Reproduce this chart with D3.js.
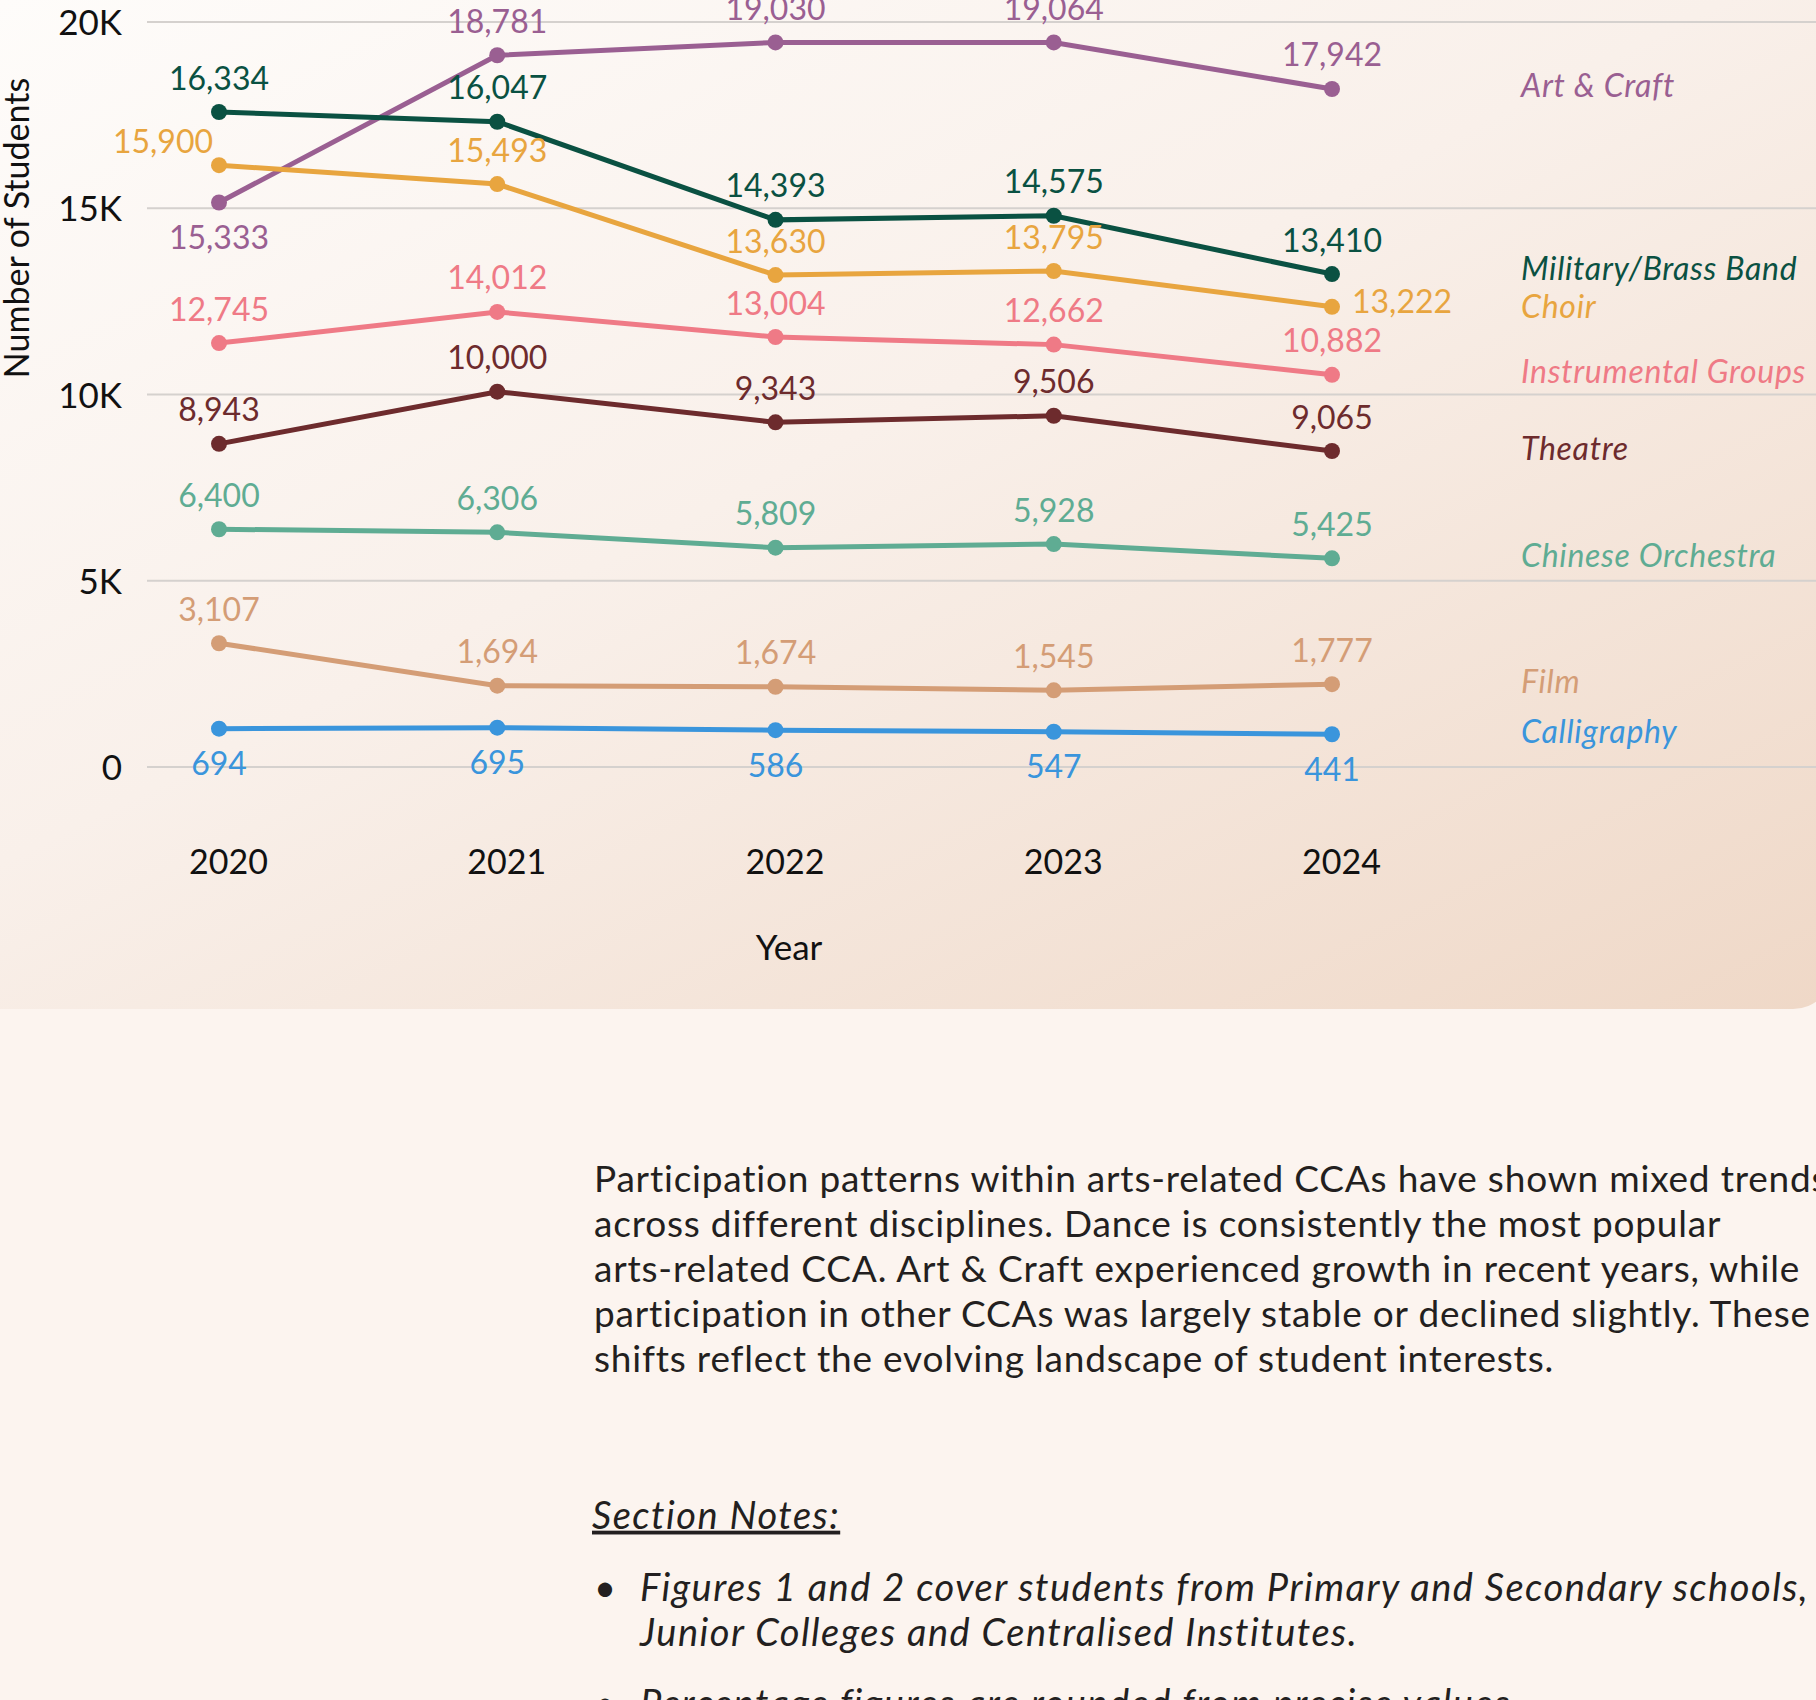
<!DOCTYPE html>
<html>
<head>
<meta charset="utf-8">
<script src="https://cdn.jsdelivr.net/npm/d3@7"></script>
<style>
  body { margin: 0; background: #fcf4ef; overflow: hidden; }
  svg { display: block; font-family: Lato, "Noto Sans", sans-serif; }
</style>
</head>
<body>
<svg id="chart"></svg>
<script>
// years on the x axis, ticks on the y axis
let years = [2020, 2021, 2022, 2023, 2024]
let yTicks = [0, 5000, 10000, 15000, 20000]
let yTickLabels = ["0", "5K", "10K", "15K", "20K"]

let seriesNames = ["Art & Craft", "Military/Brass Band", "Choir", "Instrumental Groups",
  "Theatre", "Chinese Orchestra", "Film", "Calligraphy"]
let seriesColors = ["#9a5f92", "#0a5142", "#e8a53f", "#ef7a86",
  "#6d2b2d", "#5fac93", "#d49d76", "#3a95dc"]

// where the points sit in the picture
let artCraft = [15155, 19108, 19451, 19451, 18202]
let militaryBand = [17584, 17323, 14688, 14798, 13233]
let choir = [16157, 15649, 13205, 13315, 12354]
let instrumental = [11380, 12217, 11544, 11339, 10529]
let theatre = [8675, 10076, 9252, 9430, 8483]
let chineseOrchestra = [6383, 6301, 5889, 5985, 5601]
let film = [3322, 2183, 2155, 2059, 2224]
let calligraphy = [1030, 1057, 988, 947, 879]

// numbers printed next to the points
let artCraftLabels = ["15,333", "18,781", "19,030", "19,064", "17,942"]
let militaryBandLabels = ["16,334", "16,047", "14,393", "14,575", "13,410"]
let choirLabels = ["15,900", "15,493", "13,630", "13,795", "13,222"]
let instrumentalLabels = ["12,745", "14,012", "13,004", "12,662", "10,882"]
let theatreLabels = ["8,943", "10,000", "9,343", "9,506", "9,065"]
let chineseOrchestraLabels = ["6,400", "6,306", "5,809", "5,928", "5,425"]
let filmLabels = ["3,107", "1,694", "1,674", "1,545", "1,777"]
let calligraphyLabels = ["694", "695", "586", "547", "441"]

let valueLists = [artCraft, militaryBand, choir, instrumental, theatre, chineseOrchestra, film, calligraphy]
let labelLists = [artCraftLabels, militaryBandLabels, choirLabels, instrumentalLabels,
  theatreLabels, chineseOrchestraLabels, filmLabels, calligraphyLabels]

let series = seriesNames.map((name, i) => ({
  name: name,
  color: seriesColors[i],
  points: years.map((yr, j) => ({ year: yr, value: valueLists[i][j], label: labelLists[i][j] }))
}))

let paragraph = [
  "Participation patterns within arts-related CCAs have shown mixed trends",
  "across different disciplines. Dance is consistently the most popular",
  "arts-related CCA. Art & Craft experienced growth in recent years, while",
  "participation in other CCAs was largely stable or declined slightly. These",
  "shifts reflect the evolving landscape of student interests."
]
let notes = [
  ["Figures 1 and 2 cover students from Primary and Secondary schools,", "Junior Colleges and Centralised Institutes."],
  ["Percentage figures are rounded from precise values."]
]

let width = 1816
let height = 1700

let svg = d3.select('#chart')
  .attr('width', width)
  .attr('height', height)

// card background
let defs = svg.append('defs')
let grad = defs.append('linearGradient')
  .attr('id', 'cardGrad')
  .attr('gradientUnits', 'userSpaceOnUse')
  .attr('x1', 0).attr('y1', 0)
  .attr('x2', 767).attr('y2', 1534)
grad.append('stop').attr('offset', '0%').attr('stop-color', '#fefcfa')
grad.append('stop').attr('offset', '45%').attr('stop-color', '#f9f0ea')
grad.append('stop').attr('offset', '100%').attr('stop-color', '#efd8c7')

svg.append('rect')
  .attr('x', -60).attr('y', -60)
  .attr('width', 1893).attr('height', 1069)
  .attr('rx', 40)
  .attr('fill', 'url(#cardGrad)')

let x = d3.scalePoint().domain(years).range([219, 1332])
let y = d3.scaleLinear().domain([0, 20000]).range([767, 22])

// gridlines
svg.append('g')
  .selectAll('line')
  .data(yTicks)
  .enter()
  .append('line')
  .attr('x1', 147).attr('x2', width)
  .attr('y1', d => y(d)).attr('y2', d => y(d))
  .attr('stroke', '#d5d1ce')
  .attr('stroke-width', 2)

// y axis labels
let yAxis = svg.append('g')
  .attr('transform', 'translate(122,0)')
  .call(d3.axisLeft(y).tickValues(yTicks).tickFormat((d, i) => yTickLabels[i]).tickSize(0).tickPadding(0))
yAxis.select('.domain').remove()
yAxis.attr('font-family', null).attr('font-size', 35)
yAxis.selectAll('text').attr('fill', '#111').attr('dy', '0.36em')

// x axis labels
let xAxis = svg.append('g')
  .attr('transform', 'translate(9,862)')
  .call(d3.axisBottom(x).tickSize(0).tickPadding(0))
xAxis.select('.domain').remove()
xAxis.attr('font-family', null).attr('font-size', 34)
xAxis.selectAll('text').attr('fill', '#111').attr('y', 0).attr('dy', '0.36em')

svg.append('text')
  .attr('x', 789).attr('y', 947)
  .attr('dy', '0.36em')
  .attr('text-anchor', 'middle')
  .attr('font-size', 35)
  .attr('fill', '#111')
  .text('Year')

svg.append('text')
  .attr('transform', 'translate(17,228) rotate(-90)')
  .attr('dy', '0.36em')
  .attr('text-anchor', 'middle')
  .attr('font-size', 34)
  .attr('fill', '#111')
  .text('Number of Students')

// lines + dots
let line = d3.line()
  .x(d => x(d.year))
  .y(d => y(d.value))

let groups = svg.append('g')
  .selectAll('g')
  .data(series)
  .enter()
  .append('g')

groups.append('path')
  .attr('d', d => line(d.points))
  .attr('fill', 'none')
  .attr('stroke', d => d.color)
  .attr('stroke-width', 5)

groups.selectAll('circle')
  .data(d => d.points.map(p => ({ ...p, color: d.color })))
  .enter()
  .append('circle')
  .attr('cx', d => x(d.year))
  .attr('cy', d => y(d.value))
  .attr('r', 8)
  .attr('fill', d => d.color)

// value labels, mostly above the point
function placement(name, i) {
  if (name == 'Calligraphy') return 'below'
  if (name == 'Art & Craft' && i == 0) return 'below'
  if (name == 'Choir' && i == 0) return 'left'
  if (name == 'Choir' && i == years.length - 1) return 'right'
  return 'above'
}
let offsets = {
  above: { dx: 0, dy: -34, anchor: 'middle' },
  below: { dx: 0, dy: 35, anchor: 'middle' },
  left: { dx: -56, dy: -24, anchor: 'middle' },
  right: { dx: 20, dy: -5, anchor: 'start' }
}

groups.selectAll('text.value')
  .data(d => d.points.map((p, i) => ({ ...p, color: d.color, pos: offsets[placement(d.name, i)] })))
  .enter()
  .append('text')
  .attr('class', 'value')
  .attr('x', d => x(d.year) + d.pos.dx)
  .attr('y', d => y(d.value) + d.pos.dy)
  .attr('dy', '0.36em')
  .attr('text-anchor', d => d.pos.anchor)
  .attr('font-size', 32)
  .attr('fill', d => d.color)
  .text(d => d.label)

// series names at the right, spread apart so they don't collide
let legend = series.map(s => ({ name: s.name, color: s.color, y: y(s.points[s.points.length - 1].value) - 3 }))
legend.sort((a, b) => a.y - b.y)
for (let k = 0; k < 20; k++) {
  for (let i = 1; i < legend.length; i++) {
    let gap = legend[i].y - legend[i - 1].y
    if (gap < 38) {
      let push = (38 - gap) / 2
      legend[i - 1].y -= push
      legend[i].y += push
    }
  }
}
svg.append('g')
  .selectAll('text')
  .data(legend)
  .enter()
  .append('text')
  .attr('x', 1521)
  .attr('y', d => d.y)
  .attr('dy', '0.36em')
  .attr('font-size', 32)
  .attr('letter-spacing', 0.7)
  .attr('font-style', 'italic')
  .attr('fill', d => d.color)
  .text(d => d.name)

// commentary below the chart
svg.append('g')
  .selectAll('text')
  .data(paragraph)
  .enter()
  .append('text')
  .attr('x', 594)
  .attr('y', (d, i) => 1179 + i * 45)
  .attr('dy', '0.36em')
  .attr('font-size', 37)
  .attr('letter-spacing', 0.8)
  .attr('fill', '#231f20')
  .text(d => d)

svg.append('text')
  .attr('x', 592).attr('y', 1515)
  .attr('dy', '0.36em')
  .attr('font-size', 38)
  .attr('letter-spacing', 1.5)
  .attr('font-style', 'italic')
  .attr('text-decoration', 'underline')
  .attr('fill', '#231f20')
  .text('Section Notes:')

let noteTop = [1587, 1703]
notes.forEach((lines, n) => {
  svg.append('text')
    .attr('x', 605).attr('y', noteTop[n])
    .attr('dy', '0.36em')
    .attr('text-anchor', 'middle')
    .attr('font-size', 38)
    .attr('fill', '#231f20')
    .text('\u2022')
  lines.forEach((t, i) => {
    svg.append('text')
      .attr('x', 640).attr('y', noteTop[n] + i * 45)
      .attr('dy', '0.36em')
      .attr('font-size', 38)
      .attr('letter-spacing', 1.5)
      .attr('font-style', 'italic')
      .attr('fill', '#231f20')
      .text(t)
  })
})
</script>
</body>
</html>
